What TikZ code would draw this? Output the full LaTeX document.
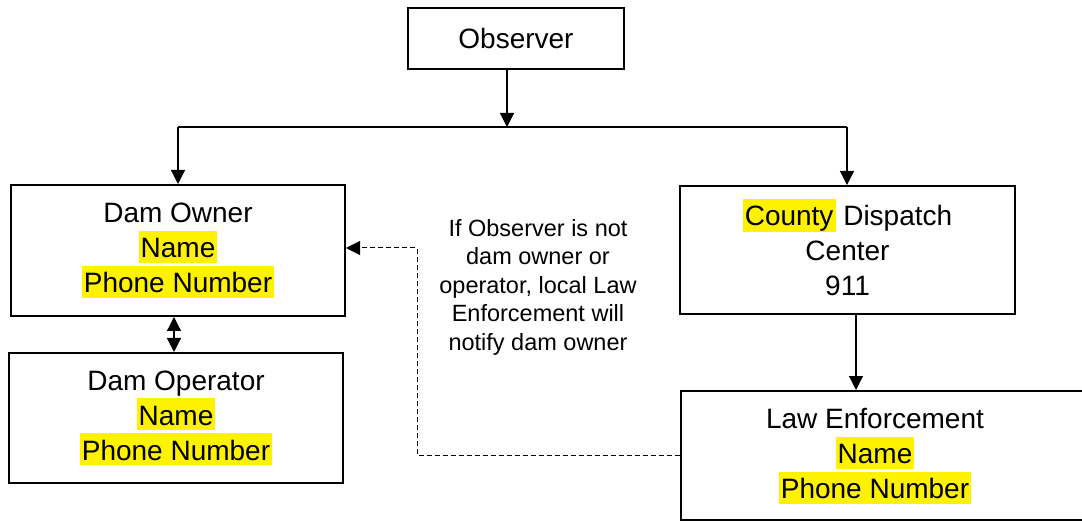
\documentclass[tikz,border=0pt]{standalone}
\usepackage{fontspec}
\setmainfont{Liberation Sans}
\usetikzlibrary{arrows.meta}
\newcommand\hlt[1]{{\setlength{\fboxsep}{0pt}\colorbox{yellow}{\rule[-5pt]{0pt}{32pt}\hspace{2pt}#1\hspace{2pt}}}}
\begin{document}
\begin{tikzpicture}[x=1pt,y=-1pt,
  box/.style={draw, line width=2pt, inner sep=0pt},
  bigtext/.style={font=\fontsize{28}{35}\selectfont, align=center},
  conn/.style={line width=1.2pt},
  tip/.tip={Triangle[length=14pt,width=14pt]},
  arr/.style={conn, -tip},
  dasharr/.style={line width=1pt, dash pattern=on 5pt off 3pt, -{Triangle[length=14pt,width=14pt]}}]
\useasboundingbox (0,0) rectangle (1082,521);

\node[box, bigtext, minimum width=216pt, minimum height=61pt] (obs) at (516,38.5) {Observer};
\node[box, bigtext, minimum width=334pt, minimum height=131pt] (owner) at (178,250.5)
  {Dam Owner\\\hlt{Name}\\\hlt{Phone Number}};
\node[box, bigtext, minimum width=334pt, minimum height=130pt] (oper) at (176,418)
  {Dam Operator\\\hlt{Name}\\\hlt{Phone Number}};
\node[box, bigtext, minimum width=335pt, minimum height=128pt] (county) at (847.5,250)
  {\hlt{County} Dispatch\\Center\\911\rule[-5pt]{0pt}{32pt}};
\node[box, minimum width=420pt, minimum height=128.5pt] (law) at (891,455.25) {};
\node[bigtext] (lawtext) at (875,456) {Law Enforcement\\\hlt{Name}\\\hlt{Phone Number}};

\node[font=\fontsize{23.5}{28.5}\selectfont, align=center] (note) at (538,287)
  {If Observer is not\\dam owner or\\operator, local Law\\Enforcement will\\notify dam owner};

\coordinate (jM) at (507,127);
\coordinate (jL) at (178,127);
\coordinate (jR) at (847,127);
\coordinate (dbl) at (174,0);
\coordinate (cl) at (856,0);
\coordinate (dc) at (417,248);

\draw[arr] (obs.south -| jM) -- (jM);
\draw[conn] (jL) -- (jR);
\draw[arr] (jL) -- (owner.north -| jL);
\draw[arr] (jR) -- (county.north -| jR);
\draw[conn, tip-tip] (owner.south -| dbl) -- (oper.north -| dbl);
\draw[arr] (county.south -| cl) -- (law.north -| cl);
\draw[dasharr] (law.west) -| (dc) -- (owner.east |- dc);
\end{tikzpicture}
\end{document}
